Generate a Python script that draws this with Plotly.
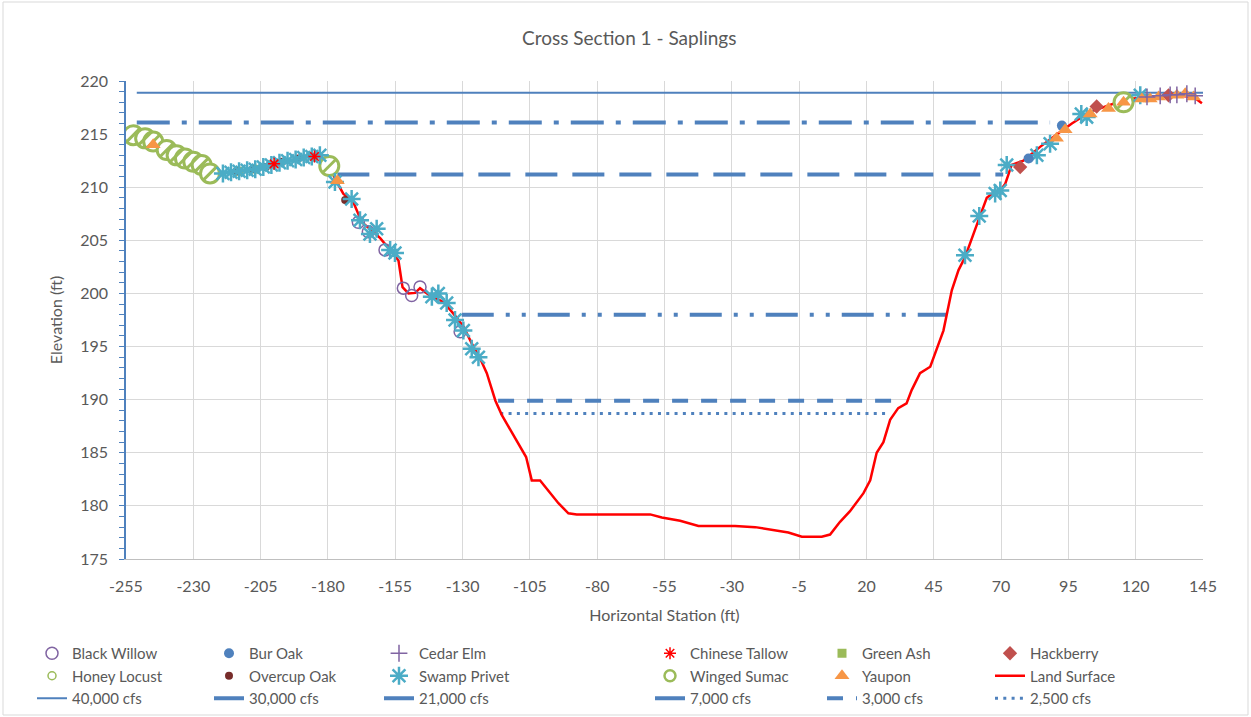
import plotly.graph_objects as go

# ---------------- data ----------------
land_x = [-255, -249.8, -244.9, -238.7, -232.5, -226.3, -221.3, -216.4, -210.2, -205.2, -200.3, -194.1,
          -187.9, -182.9, -179.2, -177.4, -174.3, -170.6, -167.4, -163.1, -160.6, -156.3, -153.8, -152.3,
          -150.1, -147.6, -145.8, -142.1, -137.1, -133.4, -129.7, -126.0, -123.5, -121.0, -119.2, -117.8,
          -115.4, -107.4, -106.4, -104.3, -101.2, -94.4, -90.7, -87.6, -60.3, -56.0, -49.2, -42.4, -28.8,
          -21.3, -9.0, -4.0, 3.4, 6.5, 10.2, 13.9, 18.9, 21.4, 23.8, 26.3, 28.8, 31.8, 34.9, 36.8, 39.9,
          43.7, 46.1, 48.6, 51.7, 54.2, 56.6, 59.1, 62.2, 64.7, 67.8, 69.7, 71.5, 72.6, 73.9, 78.3, 84.5,
          91.9, 96.3, 103.1, 111.8, 116.7, 126.6, 134.0, 141.5, 144.6]
land_y = [215.1, 214.6, 213.95, 213.0, 212.4, 211.75, 211.3, 211.4, 211.6, 211.75, 212.2, 212.5,
          212.85, 213.0, 212.1, 210.8, 209.4, 208.6, 206.7, 205.8, 205.2, 203.9, 203.1, 200.6,
          200.0, 200.05, 200.5, 199.8, 199.2, 198.1, 196.9, 195.0, 193.9, 192.5, 190.9, 189.9,
          188.55, 185.1, 184.6, 182.4, 182.4, 180.25, 179.3, 179.2, 179.2, 178.9, 178.6, 178.1, 178.1,
          178.0, 177.5, 177.1, 177.1, 177.3, 178.5, 179.5, 181.2, 182.4, 185.0, 186.0, 188.1, 189.2, 189.65, 190.9, 192.5,
          193.1, 194.7, 196.5, 200.3, 202.2, 203.4, 205.2, 207.3, 209.0, 209.6, 209.7, 210.3, 211.1, 212.1, 212.5, 213.8,
          215.2, 216.0, 217.1, 217.9, 218.3, 218.5, 218.65, 218.5, 217.9]

# water surface lines: name, elevation, start station, end station
flow_names = ["40,000 cfs", "30,000 cfs", "21,000 cfs", "7,000 cfs", "3,000 cfs", "2,500 cfs"]
flow_elev = [218.9, 216.1, 211.2, 198.0, 189.9, 188.7]
flow_x0 = [-251, -251, -176.5, -130.3, -116.8, -116.0]
flow_x1 = [145, 88.2, 70.8, 49.9, 31.4, 28.8]

# species observations
black_willow_x = [-168.7, -165.0, -158.8, -152.0, -148.9, -145.8, -130.9]
black_willow_y = [206.7, 205.8, 204.1, 200.5, 199.8, 200.6, 196.4]
bur_oak_x = [80.2, 92.6]
bur_oak_y = [212.7, 215.8]
cedar_elm_x = [124.2, 129.1, 132.8, 135.3, 139.0, 142.1]
cedar_elm_y = [218.5, 218.6, 218.7, 218.7, 218.8, 218.6]
chinese_tallow_x = [-200.0, -185.0]
chinese_tallow_y = [212.2, 212.9]
green_ash_x = [-213.0]
green_ash_y = [211.5]
hackberry_x = [77.1, 105.5, 132.2]
hackberry_y = [211.9, 217.6, 218.65]
honey_locust_x = [-207.0]
honey_locust_y = [211.7]
overcup_oak_x = [-214.0, -208.0, -203.0, -197.0, -191.0, -186.0, -173.6]
overcup_oak_y = [211.5, 211.7, 211.9, 212.4, 212.7, 212.9, 208.8]
swamp_privet_x = [-219, -216, -213, -210, -207, -204, -201, -198, -195, -192, -189, -186, -183,
                  -177.4, -171.2, -168.1, -164.4, -161.9, -156.9, -155.1, -141.4, -139.0, -135.9,
                  -132.8, -129.7, -126.6, -124.1,
                  56.6, 61.9, 67.8, 69.7, 72.1, 83.3, 88.2, 99.8, 101.8, 121.7]
swamp_privet_y = [211.3, 211.4, 211.5, 211.6, 211.7, 211.9, 212.1, 212.3, 212.5, 212.6, 212.8, 212.9, 213.0,
                  210.5, 208.9, 206.9, 205.6, 206.1, 204.1, 203.8, 199.7, 200.0, 199.1,
                  197.5, 196.5, 194.8, 194.0,
                  203.6, 207.3, 209.4, 209.7, 212.1, 213.0, 214.1, 216.9, 216.6, 218.65]
winged_sumac_x = [-252.3, -247.9, -244.9, -239.9, -236.2, -233.1, -230.0, -226.9, -223.8, -179.5, 115.5]
winged_sumac_y = [214.9, 214.6, 214.3, 213.5, 213.0, 212.7, 212.4, 212.1, 211.3, 212.0, 218.0]
yaupon_x = [-244.9, -176.5, 90.6, 93.8, 103.1, 109.9, 115.5, 122.3, 125.4, 128.5, 135.3, 138.4, 141.5]
yaupon_y = [214.0, 210.6, 214.6, 215.4, 216.9, 217.4, 218.0, 218.3, 218.3, 218.5, 218.65, 218.8, 218.5]

x_ticks = list(range(-255, 146, 25))
y_ticks = list(range(175, 221, 5))

# ---------------- styles ----------------
BLUE = "#4F81BD"
GREY = "#595959"
FONT = "Lato"
SUMAC = "#9BBB59"

flow_styles = [
    dict(width=2, dash="solid"),
    dict(width=4, dash="33px,12px,5px,12px"),
    dict(width=4, dash="32px,15px"),
    dict(width=4, dash="32px,12px,4px,12px,4px,12px"),
    dict(width=4, dash="16px,13px"),
    dict(width=3, dash="3px,5.3px"),
]

fig = go.Figure()

# legend column assignment (6 columns x 3 rows, as in the reference)
col_px = [50, 227, 397, 668, 840, 1008]
legend_ids = ["legend", "legend2", "legend3", "legend4", "legend5", "legend6"]

# water lines first (drawn beneath)
for i, (nm, el, a, b) in enumerate(zip(flow_names, flow_elev, flow_x0, flow_x1)):
    fig.add_trace(go.Scatter(x=[a, b], y=[el, el], mode="lines", name=nm,
                             line=dict(color=BLUE, **flow_styles[i]),
                             legend=legend_ids[i], legendrank=3, hoverinfo="name+y"))

fig.add_trace(go.Scatter(x=land_x, y=land_y, mode="lines", name="Land Surface",
                         line=dict(color="#FF0000", width=2.5), legend="legend6", legendrank=2))


def add_markers(x, y, name, leg, rank, marker, showlegend=True):
    fig.add_trace(go.Scatter(x=x, y=y, mode="markers", name=name, marker=marker,
                             legend=leg, legendrank=rank, showlegend=showlegend))


add_markers(honey_locust_x, honey_locust_y, "Honey Locust", "legend", 2,
            dict(symbol="circle-open", size=8, color=SUMAC, line=dict(width=1.5)))
add_markers(green_ash_x, green_ash_y, "Green Ash", "legend5", 1,
            dict(symbol="square", size=9, color=SUMAC))
add_markers(black_willow_x, black_willow_y, "Black Willow", "legend", 1,
            dict(symbol="circle-open", size=12, color="#8064A2", line=dict(width=1.5)))
# winged sumac: large hatched-looking circles on the chart, small symbol in the legend
add_markers(winged_sumac_x, winged_sumac_y, "Winged Sumac", "legend4", 2,
            dict(symbol="circle", size=19, color="white", line=dict(color=SUMAC, width=3)),
            showlegend=False)
fig.add_trace(go.Scatter(x=winged_sumac_x, y=winged_sumac_y, mode="markers", showlegend=False,
                         marker=dict(symbol="line-ne-open", size=13, color=SUMAC,
                                     line=dict(color=SUMAC, width=3)),
                         hoverinfo="skip"))
fig.add_trace(go.Scatter(x=[None], y=[None], mode="markers", name="Winged Sumac",
                         marker=dict(symbol="circle", size=11, color="white", line=dict(color=SUMAC, width=2.5)),
                         legend="legend4", legendrank=2))
add_markers(overcup_oak_x, overcup_oak_y, "Overcup Oak", "legend2", 2,
            dict(symbol="circle", size=8, color="#772C2A"))
add_markers(swamp_privet_x, swamp_privet_y, "Swamp Privet", "legend3", 2,
            dict(symbol="asterisk-open", size=15, color="#4BACC6", line=dict(color="#4BACC6", width=2.5)))
add_markers(chinese_tallow_x, chinese_tallow_y, "Chinese Tallow", "legend4", 1,
            dict(symbol="asterisk-open", size=10, color="#FF0000", line=dict(color="#FF0000", width=1.5)))
add_markers(bur_oak_x, bur_oak_y, "Bur Oak", "legend2", 1,
            dict(symbol="circle", size=10, color=BLUE))
add_markers(hackberry_x, hackberry_y, "Hackberry", "legend6", 1,
            dict(symbol="diamond", size=11, color="#C0504D"))
add_markers(yaupon_x, yaupon_y, "Yaupon", "legend5", 2,
            dict(symbol="triangle-up", size=13, color="#F79646"))
add_markers(cedar_elm_x, cedar_elm_y, "Cedar Elm", "legend3", 1,
            dict(symbol="cross-thin-open", size=12, color="#8064A2", line=dict(color="#8064A2", width=1.5)))

# ---------------- layout ----------------
L, R, T, B = 126, 48, 81, 158
W, H = 1251, 717
pw = W - L - R
ph = H - T - B


def px_to_paper_x(px):
    return (px - L) / pw


def px_to_paper_y(py):
    return (H - B - py) / ph


legend_common = dict(orientation="v", yanchor="top", xanchor="left",
                     bgcolor="rgba(0,0,0,0)", font=dict(family=FONT, size=15, color=GREY),
                     traceorder="normal", itemclick=False, tracegroupgap=0)
layout_legends = {}
for lid, cx in zip(legend_ids, col_px):
    layout_legends[lid] = dict(legend_common, x=px_to_paper_x(cx - 18), y=px_to_paper_y(637))

fig.update_layout(
    width=W, height=H,
    margin=dict(l=L, r=R, t=T, b=B, autoexpand=False),
    paper_bgcolor="white", plot_bgcolor="white",
    font=dict(family=FONT, color=GREY),
    title=dict(text="Cross Section 1 - Saplings", x=0.503, xanchor="center", y=1 - 38 / H,
               yanchor="middle", font=dict(family=FONT, size=19, color=GREY)),
    xaxis=dict(range=[-255, 145], tickvals=x_ticks, ticktext=[str(v) for v in x_ticks],
               showgrid=True, gridcolor="#D9D9D9", gridwidth=1, zeroline=False,
               showline=True, linecolor="#BFBFBF", linewidth=1, ticks="",
               ticklabelstandoff=13, tickfont=dict(family=FONT, size=16, color=GREY),
               title=dict(text="Horizontal Station (ft)", font=dict(family=FONT, size=16, color=GREY),
                          standoff=15)),
    yaxis=dict(range=[175, 220], tickvals=y_ticks, showgrid=True, gridcolor="#D9D9D9", gridwidth=1,
               zeroline=False, showline=True, linecolor=BLUE, linewidth=1.5,
               ticks="outside", ticklen=5, tickcolor=BLUE, tickwidth=1,
               minor=dict(dtick=1, ticks="outside", ticklen=5, tickcolor=BLUE, showgrid=False),
               ticklabelstandoff=8, tickfont=dict(family=FONT, size=16, color=GREY),
               title=dict(text="Elevation (ft)", font=dict(family=FONT, size=16, color=GREY),
                          standoff=14)),
    showlegend=True,
    shapes=[dict(type="rect", xref="paper", yref="paper",
                 x0=px_to_paper_x(3), x1=px_to_paper_x(1248), y0=px_to_paper_y(715), y1=px_to_paper_y(2),
                 line=dict(color="#D9D9D9", width=1), fillcolor="rgba(0,0,0,0)", layer="below")],
    **layout_legends,
)

fig.write_html("out.html")
